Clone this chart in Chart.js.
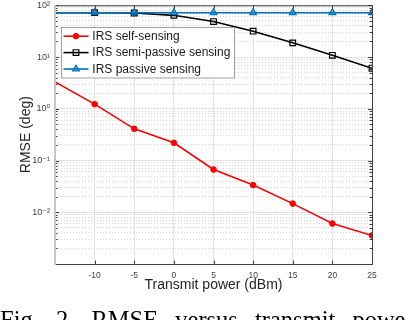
<!DOCTYPE html>
<html><head><meta charset="utf-8">
<script src="https://cdn.jsdelivr.net/npm/chart.js@4/dist/chart.umd.min.js"></script>
<style>
html,body{margin:0;padding:0;background:#fff;overflow:hidden;}
#wrap{position:relative;width:406px;height:320px;overflow:hidden;background:#fff;}
canvas{position:absolute;left:0;top:0;}
#cap{position:absolute;left:0;top:308px;font-family:'Liberation Serif','Times New Roman',serif;font-size:24.5px;line-height:24px;word-spacing:11px;white-space:nowrap;color:#000;}
</style></head><body>
<div id="wrap"><canvas id="c" width="406" height="320"></canvas><div id="cap">Fig. 2. RMSE versus transmit power</div></div>
<script>
// ---- data ----
const transmitPower = [-15, -10, -5, 0, 5, 10, 15, 20, 25];
const selfSensing   = [3.3, 1.23, 0.41, 0.22, 0.067, 0.0335, 0.0147, 0.00605, 0.00356];
const semiPassive   = [72, 72, 71, 64, 48.5, 31.6, 18.8, 10.8, 6.07];
const passiveSens   = [72, 72, 72, 72, 72, 72, 72, 72, 72];
const seriesNames   = ['IRS self-sensing', 'IRS semi-passive sensing', 'IRS passive sensing'];
const xTickValues   = [-10, -5, 0, 5, 10, 15, 20, 25];
const yDecades      = [0.001, 0.01, 0.1, 1, 10, 100];
const yTickLabels   = ['', '10⁻²', '10⁻¹', '10⁰', '10¹', '10²'];
const xTitle = 'Transmit power (dBm)';
const yTitle = 'RMSE (deg)';

const FONT = "'Liberation Sans', Arial, 'DejaVu Sans', sans-serif";
const AXC = '#404040';

function pts(vals){ return transmitPower.map((x,i)=>({x:x, y:vals[i]})); }
function hideFirst(ctx, r){ return ctx.dataIndex === 0 ? 0 : r; }

function drawMarker(ctx, style, x, y, r, fill, stroke, lw){
  ctx.beginPath();
  if(style==='circle'){ ctx.arc(x,y,r,0,Math.PI*2); }
  else if(style==='rect'){ const s=r*Math.SQRT1_2; ctx.rect(x-s,y-s,2*s,2*s); }
  else if(style==='triangle'){
    let a=0; ctx.moveTo(x+Math.sin(a)*r, y-Math.cos(a)*r);
    a+=2*Math.PI/3; ctx.lineTo(x+Math.sin(a)*r, y-Math.cos(a)*r);
    a+=2*Math.PI/3; ctx.lineTo(x+Math.sin(a)*r, y-Math.cos(a)*r);
    ctx.closePath();
  }
  if(fill && fill!=='transparent'){ ctx.fillStyle=fill; ctx.fill(); }
  ctx.lineWidth=lw; ctx.strokeStyle=stroke; ctx.stroke();
}

const framePlugin = {
  id: 'frame',
  afterDatasetsDraw(chart){
    const {ctx, chartArea:a, scales:{x, y}} = chart;
    ctx.save();
    ctx.strokeStyle = AXC; ctx.lineWidth = 1;
    ctx.beginPath();
    y.ticks.forEach(t=>{
      const py = Math.round(y.getPixelForValue(t.value)) + 0.5;
      const L = t.major ? 4 : 2.5;
      ctx.moveTo(a.left, py); ctx.lineTo(a.left + L, py);
      ctx.moveTo(a.right, py); ctx.lineTo(a.right - L, py);
    });
    xTickValues.forEach(v=>{
      const px = Math.round(x.getPixelForValue(v)) + 0.5;
      ctx.moveTo(px, a.bottom); ctx.lineTo(px, a.bottom - 3.5);
      ctx.moveTo(px, a.top); ctx.lineTo(px, a.top + 3.5);
    });
    ctx.stroke();
    ctx.beginPath();
    ctx.moveTo(a.left, a.top + 0.5); ctx.lineTo(a.right + 1, a.top + 0.5);
    ctx.moveTo(a.right + 0.5, a.top); ctx.lineTo(a.right + 0.5, a.bottom + 1);
    ctx.moveTo(a.left, a.bottom + 0.5); ctx.lineTo(a.right + 1, a.bottom + 0.5);
    ctx.stroke();
    ctx.beginPath();
    ctx.strokeStyle = '#c6c6c6'; ctx.lineWidth = 2;
    ctx.moveTo(a.left, a.top); ctx.lineTo(a.left, a.bottom + 1);
    ctx.stroke();

    // legend
    const bx = 61.5, by = 27.5, bw = 173, bh = 50.5;
    ctx.fillStyle = '#fff'; ctx.fillRect(bx, by, bw, bh);
    ctx.strokeStyle = '#a0a0a0'; ctx.lineWidth = 1; ctx.strokeRect(bx, by, bw, bh);
    const rowY = [36.2, 52.6, 69.0];
    const order = [2, 1, 0];
    ctx.font = '12px ' + FONT;
    ctx.textBaseline = 'middle'; ctx.textAlign = 'left';
    for(let i=0;i<3;i++){
      const ds = chart.data.datasets[order[i]];
      const yy = rowY[i];
      ctx.beginPath();
      ctx.strokeStyle = ds.borderColor; ctx.lineWidth = ds.borderWidth;
      ctx.moveTo(63.5, yy); ctx.lineTo(88.5, yy); ctx.stroke();
      drawMarker(ctx, ds.pointStyle, 76, yy, ds.legendRadius, ds.pointBackgroundColor, ds.borderColor, ds.pointBorderWidth);
      ctx.fillStyle = '#1a1a1a';
      ctx.fillText(seriesNames[i], 92.3, yy + 0.5);
    }
    ctx.restore();
  }
};

new Chart(document.getElementById('c'), {
  type: 'line',
  data: {
    datasets: [
      { label: seriesNames[2], data: pts(passiveSens), order: 0,
        borderColor: '#0072BD', borderWidth: 1.6, pointStyle: 'triangle',
        pointBackgroundColor: 'rgba(0,114,189,0.35)', pointBorderColor: '#0072BD', pointBorderWidth: 1.3,
        pointRadius: c => hideFirst(c, 3.8), legendRadius: 3.8, tension: 0 },
      { label: seriesNames[1], data: pts(semiPassive), order: 1,
        borderColor: '#000000', borderWidth: 1.6, pointStyle: 'rect',
        pointBackgroundColor: 'transparent', pointBorderColor: '#000000', pointBorderWidth: 1.2,
        pointRadius: c => hideFirst(c, 4), legendRadius: 4, tension: 0 },
      { label: seriesNames[0], data: pts(selfSensing), order: 2,
        borderColor: '#ff0000', borderWidth: 1.6, pointStyle: 'circle',
        pointBackgroundColor: '#ff0000', pointBorderColor: '#ff0000', pointBorderWidth: 1,
        pointRadius: c => hideFirst(c, 2.8), legendRadius: 2.8, tension: 0 }
    ]
  },
  options: {
    responsive: false, animation: false, events: [],
    layout: { padding: { left: 0, right: 34, top: 5, bottom: 0 } },
    plugins: { legend: { display: false }, tooltip: { enabled: false } },
    scales: {
      x: {
        type: 'linear', min: -15, max: 25,
        ticks: { stepSize: 5, autoSkip: false, maxRotation: 0, padding: 7,
          color: AXC, font: { size: 8.5, family: FONT },
          callback: v => xTickValues.includes(v) ? String(v) : '' },
        grid: { color: '#e2e2e2', lineWidth: 1, drawTicks: false },
        border: { display: false },
        title: { display: true, text: xTitle, color: '#262626',
          font: { size: 14, family: FONT }, padding: { top: 0, bottom: 26 } },
        afterFit(s){ s.height = 56; s.paddingLeft = 0; s.paddingRight = 0; }
      },
      y: {
        type: 'logarithmic', min: 0.001, max: 100,
        afterBuildTicks(s){
          const t = [];
          for(let d=0; d<yDecades.length; d++){
            t.push({ value: yDecades[d], major: true });
            if(d < yDecades.length-1){
              for(let k=2;k<=9;k++) t.push({ value: +(k*yDecades[d]).toPrecision(6), major: false });
            }
          }
          s.ticks = t;
        },
        ticks: { autoSkip: false, padding: 5, color: AXC, font: { size: 9, family: FONT },
          callback: (v) => {
            for(let i=0;i<yDecades.length;i++) if(Math.abs(Math.log10(v)-Math.log10(yDecades[i]))<1e-6) return yTickLabels[i];
            return '';
          } },
        grid: { color: c => (c.tick && c.tick.major) ? '#e2e2e2' : '#d6d6d6', lineWidth: 1, drawTicks: false },
        border: { display: false, dash: c => (c.tick && !c.tick.major) ? [1, 2] : [] },
        title: { display: true, text: yTitle, color: '#262626',
          font: { size: 14, family: FONT }, padding: { top: 18, bottom: 0 } },
        afterFit(s){ s.width = 55; s.paddingTop = 0; s.paddingBottom = 0; }
      }
    }
  },
  plugins: [framePlugin]
});
</script>
</body></html>
